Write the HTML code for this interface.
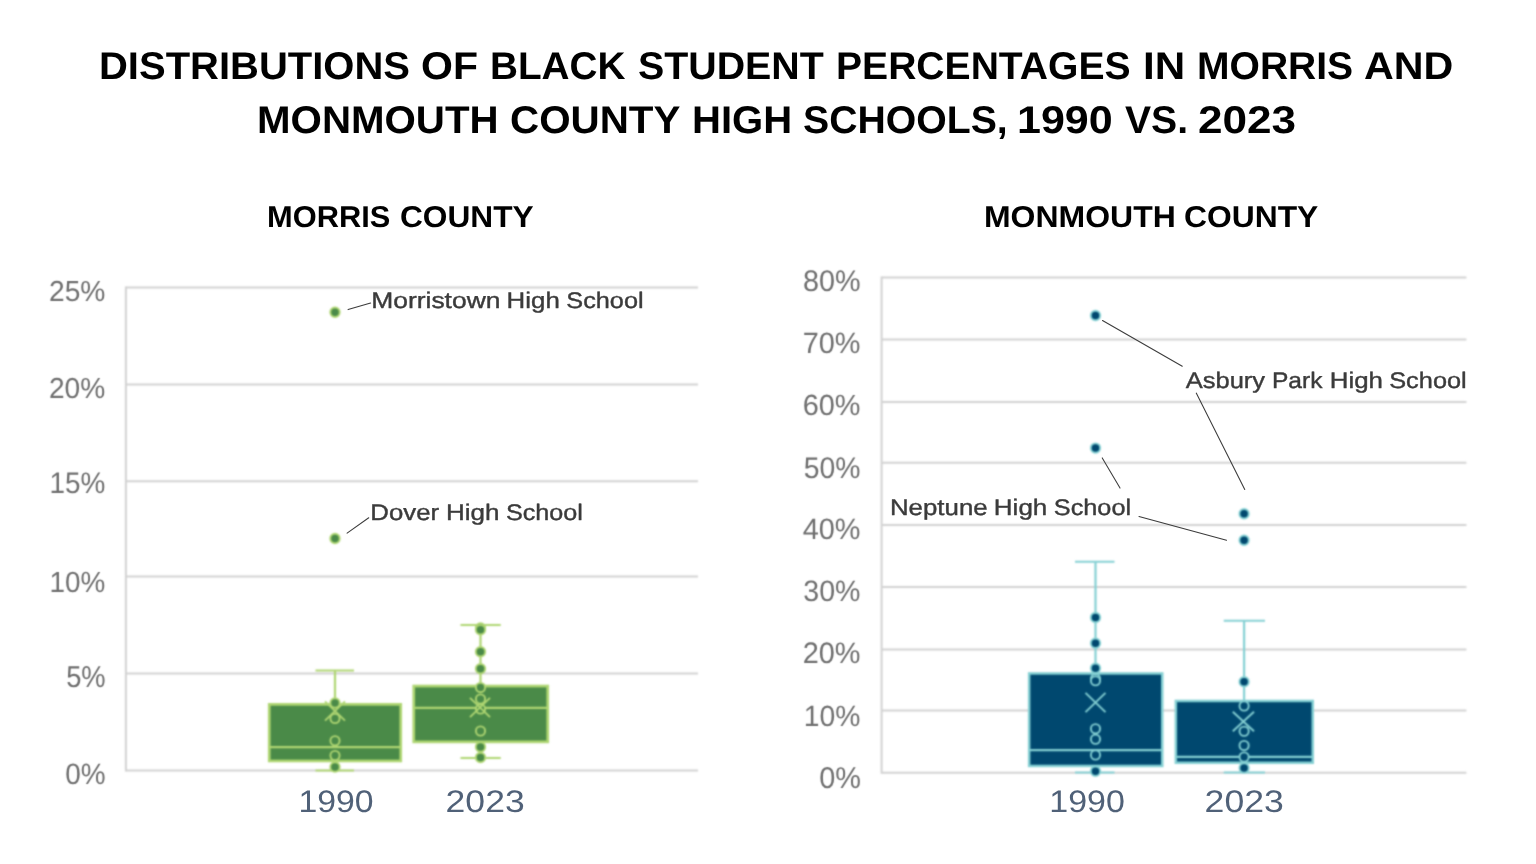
<!DOCTYPE html>
<html lang="en">
<head>
<meta charset="utf-8">
<title>Distributions of Black Student Percentages in Morris and Monmouth County High Schools, 1990 vs. 2023</title>
<style>
html,body{margin:0;padding:0;background:#fff;}
body{width:1536px;height:864px;overflow:hidden;position:relative;font-family:"Liberation Sans",Arial,Helvetica,sans-serif;text-rendering:geometricPrecision;}
.fig,.chart{position:absolute;left:0;top:0;width:1536px;height:864px;margin:0;}
.fig h1,.fig h2{position:absolute;left:0;top:0;width:1536px;height:0;margin:0;padding:0;font-weight:bold;color:#000;line-height:1;}
.fig h1 span,.fig h2 span{position:absolute;display:block;white-space:pre;transform-origin:0 0;line-height:1;}
.fig h1 .ln{left:0;top:0;width:1536px;height:0;}
svg{position:absolute;left:0;top:0;overflow:visible;}
svg text{font-family:"Liberation Sans",Arial,Helvetica,sans-serif;white-space:pre;text-rendering:geometricPrecision;}
</style>
</head>
<body>
<main class="fig">
<h1><span class="ln" style="font-size:38.52px"><span style="left:98.57px;top:48.00px;transform:scaleX(1.0380)">DISTRIBUTIONS</span> <span style="left:420.81px;top:48.00px;transform:scaleX(1.0647)">OF</span> <span style="left:489.91px;top:48.00px;transform:scaleX(1.0054)">BLACK</span> <span style="left:637.58px;top:48.00px;transform:scaleX(1.0217)">STUDENT</span> <span style="left:836.13px;top:48.00px;transform:scaleX(1.0147)">PERCENTAGES</span> <span style="left:1142.68px;top:48.00px;transform:scaleX(1.0951)">IN</span> <span style="left:1196.64px;top:48.00px;transform:scaleX(1.0135)">MORRIS</span> <span style="left:1364.43px;top:48.00px;transform:scaleX(1.0705)">AND</span></span>
<span class="ln" style="font-size:38.52px"><span style="left:256.55px;top:101.75px;transform:scaleX(1.0459)">MONMOUTH</span> <span style="left:509.59px;top:101.75px;transform:scaleX(1.0480)">COUNTY</span> <span style="left:691.82px;top:101.75px;transform:scaleX(1.0399)">HIGH</span> <span style="left:803.34px;top:101.75px;transform:scaleX(1.0179)">SCHOOLS,</span> <span style="left:1016.79px;top:101.75px;transform:scaleX(1.1170)">1990</span> <span style="left:1124.66px;top:101.75px;transform:scaleX(1.0154)">VS.</span> <span style="left:1198.47px;top:101.75px;transform:scaleX(1.1451)">2023</span></span></h1>
<svg class="defs" width="0" height="0" aria-hidden="true">
<defs><filter id="soft" x="-5%" y="-5%" width="110%" height="110%" color-interpolation-filters="sRGB"><feConvolveMatrix order="5" kernelMatrix="0.00087 0.00695 0.01388 0.00695 0.00087 0.00695 0.05540 0.11068 0.05540 0.00695 0.01388 0.11068 0.22111 0.11068 0.01388 0.00695 0.05540 0.11068 0.05540 0.00695 0.00087 0.00695 0.01388 0.00695 0.00087" edgeMode="none" preserveAlpha="false"/></filter><filter id="softt" x="-5%" y="-5%" width="110%" height="110%" color-interpolation-filters="sRGB"><feConvolveMatrix order="3" kernelMatrix="0.0289 0.1122 0.0289 0.1122 0.4356 0.1122 0.0289 0.1122 0.0289" edgeMode="none" preserveAlpha="false"/></filter></defs></svg>
<section class="chart morris">
<h2 style="font-size:30.09px"><span style="left:267.34px;top:203.00px;transform:scaleX(1.0243)">MORRIS</span> <span style="left:400.30px;top:203.00px;transform:scaleX(1.0525)">COUNTY</span></h2>
<svg width="1536" height="864" viewBox="0 0 1536 864">
<g filter="url(#soft)">
<g stroke="#d2d2d2" stroke-width="2" fill="none">
<line x1="125.9" y1="287.45" x2="698.0" y2="287.45"/>
<line x1="125.9" y1="384.4" x2="698.0" y2="384.4"/>
<line x1="125.9" y1="481.35" x2="698.0" y2="481.35"/>
<line x1="125.9" y1="576.5" x2="698.0" y2="576.5"/>
<line x1="125.9" y1="673.45" x2="698.0" y2="673.45"/>
<line x1="125.9" y1="770.45" x2="698.0" y2="770.45"/>
<line x1="125.9" y1="286.45" x2="125.9" y2="771.45"/>
</g>
<g stroke="#afd672" stroke-width="2.2" fill="none">
<path d="M335 670.5V770.5M315.5 670.5H354M315.5 770.5H354"/>
<rect x="269.25" y="704.35" width="131.50" height="56.60" fill="#4a8a48" stroke-width="2.7"/>
<path d="M269.25 747.1H400.75"/>
<circle cx="335" cy="718.5" r="4.6" fill="#4a8a48" stroke-width="1.9"/>
<circle cx="335" cy="740.75" r="4.6" fill="#4a8a48" stroke-width="1.9"/>
<circle cx="335" cy="755.5" r="4.6" fill="#4a8a48" stroke-width="1.9"/>
<path d="M325 701.4L345 720.6M325 720.6L345 701.4" stroke-width="1.9"/>
<circle cx="335" cy="312.25" r="4.7" fill="#4a8a48" stroke-width="1.9"/>
<circle cx="335" cy="538.5" r="4.7" fill="#4a8a48" stroke-width="1.9"/>
<circle cx="335" cy="703" r="4.7" fill="#4a8a48" stroke-width="1.9"/>
<circle cx="335" cy="767" r="4.7" fill="#4a8a48" stroke-width="1.9"/>
</g>
<g stroke="#afd672" stroke-width="2.2" fill="none">
<path d="M480.5 625V758M460.5 625H500.75M460.5 758H500.75"/>
<rect x="413.75" y="686.05" width="134.00" height="55.80" fill="#4a8a48" stroke-width="2.7"/>
<path d="M413.75 707.8H547.75"/>
<circle cx="480.5" cy="687.5" r="4.6" fill="#4a8a48" stroke-width="1.9"/>
<circle cx="480.5" cy="699" r="4.6" fill="#4a8a48" stroke-width="1.9"/>
<circle cx="480.5" cy="709" r="4.6" fill="#4a8a48" stroke-width="1.9"/>
<circle cx="480.5" cy="731" r="4.6" fill="#4a8a48" stroke-width="1.9"/>
<path d="M470 697.9L490 717.1M470 717.1L490 697.9" stroke-width="1.9"/>
<circle cx="480.5" cy="628.0" r="4.7" fill="#4a8a48" stroke-width="1.9"/>
<circle cx="480.5" cy="629.8" r="4.7" fill="#4a8a48" stroke-width="1.9"/>
<circle cx="480.5" cy="651.75" r="4.7" fill="#4a8a48" stroke-width="1.9"/>
<circle cx="480.5" cy="668.75" r="4.7" fill="#4a8a48" stroke-width="1.9"/>
<circle cx="480.5" cy="747" r="4.7" fill="#4a8a48" stroke-width="1.9"/>
<circle cx="480.5" cy="757.5" r="4.7" fill="#4a8a48" stroke-width="1.9"/>
</g>
</g>
<g filter="url(#softt)">
<text y="301.00" font-size="28.93" font-weight="normal" fill="#707070"><tspan x="48.98" textLength="56.42" lengthAdjust="spacingAndGlyphs">25%</tspan></text>
<text y="398.00" font-size="28.93" font-weight="normal" fill="#707070"><tspan x="48.98" textLength="56.32" lengthAdjust="spacingAndGlyphs">20%</tspan></text>
<text y="493.00" font-size="29.71" font-weight="normal" fill="#707070"><tspan x="49.52" textLength="55.77" lengthAdjust="spacingAndGlyphs">15%</tspan></text>
<text y="592.00" font-size="29.14" font-weight="normal" fill="#707070"><tspan x="49.52" textLength="55.77" lengthAdjust="spacingAndGlyphs">10%</tspan></text>
<text y="687.00" font-size="30.20" font-weight="normal" fill="#707070"><tspan x="66.16" textLength="39.51" lengthAdjust="spacingAndGlyphs">5%</tspan></text>
<text y="784.00" font-size="29.42" font-weight="normal" fill="#707070"><tspan x="65.31" textLength="40.39" lengthAdjust="spacingAndGlyphs">0%</tspan></text>
</g>
<text y="812.09" font-size="31.19" font-weight="normal" fill="#506178"><tspan x="298.42" textLength="75.19" lengthAdjust="spacingAndGlyphs">1990</tspan></text>
<text y="812.09" font-size="31.19" font-weight="normal" fill="#506178"><tspan x="445.61" textLength="79.05" lengthAdjust="spacingAndGlyphs">2023</tspan></text>
<g stroke="#3b3b3b" stroke-width="1.05" fill="none" stroke-linecap="round">
<line x1="348.1" y1="309.6" x2="370.6" y2="303.1"/>
<line x1="347.1" y1="533.1" x2="368.75" y2="517.75"/>
</g>
<text y="308.10" font-size="22.50" font-weight="normal" fill="#3b3b3b" stroke="#3b3b3b" stroke-width="0.4" stroke-linejoin="round"><tspan x="371.23" textLength="129.23" lengthAdjust="spacingAndGlyphs">Morristown</tspan> <tspan x="506.63" textLength="53.16" lengthAdjust="spacingAndGlyphs">High</tspan> <tspan x="566.33" textLength="77.27" lengthAdjust="spacingAndGlyphs">School</tspan></text>
<text y="520.00" font-size="22.50" font-weight="normal" fill="#3b3b3b" stroke="#3b3b3b" stroke-width="0.4" stroke-linejoin="round"><tspan x="370.38" textLength="68.78" lengthAdjust="spacingAndGlyphs">Dover</tspan> <tspan x="445.96" textLength="53.49" lengthAdjust="spacingAndGlyphs">High</tspan> <tspan x="505.93" textLength="77.01" lengthAdjust="spacingAndGlyphs">School</tspan></text>
</svg>
</section>
<section class="chart monmouth">
<h2 style="font-size:30.09px"><span style="left:984.36px;top:203.00px;transform:scaleX(1.0626)">MONMOUTH</span> <span style="left:1184.49px;top:203.00px;transform:scaleX(1.0573)">COUNTY</span></h2>
<svg width="1536" height="864" viewBox="0 0 1536 864">
<g filter="url(#soft)">
<g stroke="#d2d2d2" stroke-width="2" fill="none">
<line x1="881.6" y1="277.45" x2="1466.4" y2="277.45"/>
<line x1="881.6" y1="339.5" x2="1466.4" y2="339.5"/>
<line x1="881.6" y1="402.0" x2="1466.4" y2="402.0"/>
<line x1="881.6" y1="462.7" x2="1466.4" y2="462.7"/>
<line x1="881.6" y1="525.0" x2="1466.4" y2="525.0"/>
<line x1="881.6" y1="587.0" x2="1466.4" y2="587.0"/>
<line x1="881.6" y1="649.6" x2="1466.4" y2="649.6"/>
<line x1="881.6" y1="710.4" x2="1466.4" y2="710.4"/>
<line x1="881.6" y1="772.8" x2="1466.4" y2="772.8"/>
<line x1="881.6" y1="276.45" x2="881.6" y2="773.8"/>
</g>
<g stroke="#84d0d3" stroke-width="2.2" fill="none">
<path d="M1095.5 561.75V772.5M1075 561.75H1114.5M1075 772.5H1114.5"/>
<rect x="1029.15" y="673.45" width="133.10" height="92.50" fill="#00486f" stroke-width="2.5"/>
<path d="M1029.15 750.1H1162.25"/>
<circle cx="1095.5" cy="678.6" r="4.6" fill="#00486f" stroke-width="1.9"/>
<circle cx="1095.5" cy="680.8" r="4.6" fill="#00486f" stroke-width="1.9"/>
<circle cx="1095.5" cy="728.75" r="4.6" fill="#00486f" stroke-width="1.9"/>
<circle cx="1095.5" cy="739.25" r="4.6" fill="#00486f" stroke-width="1.9"/>
<circle cx="1095.5" cy="755" r="4.6" fill="#00486f" stroke-width="1.9"/>
<path d="M1085.5 692.9L1105.5 712.1M1085.5 712.1L1105.5 692.9" stroke-width="1.9"/>
<circle cx="1095.5" cy="315.5" r="4.7" fill="#00486f" stroke-width="1.9"/>
<circle cx="1095.5" cy="448.1" r="4.7" fill="#00486f" stroke-width="1.9"/>
<circle cx="1095.5" cy="617.5" r="4.7" fill="#00486f" stroke-width="1.9"/>
<circle cx="1095.5" cy="643.25" r="4.7" fill="#00486f" stroke-width="1.9"/>
<circle cx="1095.5" cy="668.25" r="4.7" fill="#00486f" stroke-width="1.9"/>
<circle cx="1095.5" cy="771.25" r="4.7" fill="#00486f" stroke-width="1.9"/>
</g>
<g stroke="#84d0d3" stroke-width="2.2" fill="none">
<path d="M1244.1 620.75V772.5M1223.75 620.75H1265M1223.75 772.5H1265"/>
<rect x="1175.85" y="700.95" width="136.90" height="61.80" fill="#00486f" stroke-width="2.5"/>
<path d="M1175.85 756.8H1312.75"/>
<circle cx="1244.1" cy="706" r="4.6" fill="#00486f" stroke-width="1.9"/>
<circle cx="1244.1" cy="731.25" r="4.6" fill="#00486f" stroke-width="1.9"/>
<circle cx="1244.1" cy="745.5" r="4.6" fill="#00486f" stroke-width="1.9"/>
<circle cx="1244.1" cy="757" r="4.6" fill="#00486f" stroke-width="1.9"/>
<path d="M1232.8000000000002 711.7L1254.0 731.3M1232.8000000000002 731.3L1254.0 711.7" stroke-width="1.9"/>
<circle cx="1244.1" cy="513.75" r="4.7" fill="#00486f" stroke-width="1.9"/>
<circle cx="1244.1" cy="540.25" r="4.7" fill="#00486f" stroke-width="1.9"/>
<circle cx="1244.1" cy="681.75" r="4.7" fill="#00486f" stroke-width="1.9"/>
<circle cx="1244.1" cy="768" r="4.7" fill="#00486f" stroke-width="1.9"/>
</g>
</g>
<g filter="url(#softt)">
<text y="291.00" font-size="29.78" font-weight="normal" fill="#707070"><tspan x="802.90" textLength="57.58" lengthAdjust="spacingAndGlyphs">80%</tspan></text>
<text y="353.00" font-size="29.42" font-weight="normal" fill="#707070"><tspan x="802.67" textLength="57.81" lengthAdjust="spacingAndGlyphs">70%</tspan></text>
<text y="415.00" font-size="29.21" font-weight="normal" fill="#707070"><tspan x="802.68" textLength="57.80" lengthAdjust="spacingAndGlyphs">60%</tspan></text>
<text y="478.00" font-size="29.78" font-weight="normal" fill="#707070"><tspan x="803.72" textLength="56.74" lengthAdjust="spacingAndGlyphs">50%</tspan></text>
<text y="539.00" font-size="29.42" font-weight="normal" fill="#707070"><tspan x="802.64" textLength="57.84" lengthAdjust="spacingAndGlyphs">40%</tspan></text>
<text y="601.00" font-size="29.42" font-weight="normal" fill="#707070"><tspan x="803.29" textLength="57.18" lengthAdjust="spacingAndGlyphs">30%</tspan></text>
<text y="663.00" font-size="29.64" font-weight="normal" fill="#707070"><tspan x="802.70" textLength="57.78" lengthAdjust="spacingAndGlyphs">20%</tspan></text>
<text y="726.00" font-size="29.28" font-weight="normal" fill="#707070"><tspan x="803.84" textLength="56.61" lengthAdjust="spacingAndGlyphs">10%</tspan></text>
<text y="788.00" font-size="30.06" font-weight="normal" fill="#707070"><tspan x="819.27" textLength="41.71" lengthAdjust="spacingAndGlyphs">0%</tspan></text>
</g>
<text y="812.09" font-size="31.19" font-weight="normal" fill="#506178"><tspan x="1049.31" textLength="75.61" lengthAdjust="spacingAndGlyphs">1990</tspan></text>
<text y="812.09" font-size="31.19" font-weight="normal" fill="#506178"><tspan x="1204.60" textLength="79.26" lengthAdjust="spacingAndGlyphs">2023</tspan></text>
<g stroke="#3b3b3b" stroke-width="1.05" fill="none" stroke-linecap="round">
<line x1="1102.5" y1="320.5" x2="1182.25" y2="366.25"/>
<line x1="1196.25" y1="393.1" x2="1244.75" y2="489.5"/>
<line x1="1102.25" y1="457.9" x2="1120" y2="488.1"/>
<line x1="1139" y1="516.6" x2="1226.5" y2="540.25"/>
</g>
<text y="387.90" font-size="22.50" font-weight="normal" fill="#3b3b3b" stroke="#3b3b3b" stroke-width="0.4" stroke-linejoin="round"><tspan x="1185.82" textLength="79.27" lengthAdjust="spacingAndGlyphs">Asbury</tspan> <tspan x="1271.98" textLength="50.52" lengthAdjust="spacingAndGlyphs">Park</tspan> <tspan x="1329.78" textLength="53.16" lengthAdjust="spacingAndGlyphs">High</tspan> <tspan x="1389.23" textLength="77.48" lengthAdjust="spacingAndGlyphs">School</tspan></text>
<text y="515.00" font-size="22.50" font-weight="normal" fill="#3b3b3b" stroke="#3b3b3b" stroke-width="0.4" stroke-linejoin="round"><tspan x="889.98" textLength="97.66" lengthAdjust="spacingAndGlyphs">Neptune</tspan> <tspan x="993.87" textLength="53.43" lengthAdjust="spacingAndGlyphs">High</tspan> <tspan x="1053.83" textLength="77.27" lengthAdjust="spacingAndGlyphs">School</tspan></text>
</svg>
</section>
</main>
</body>
</html>
